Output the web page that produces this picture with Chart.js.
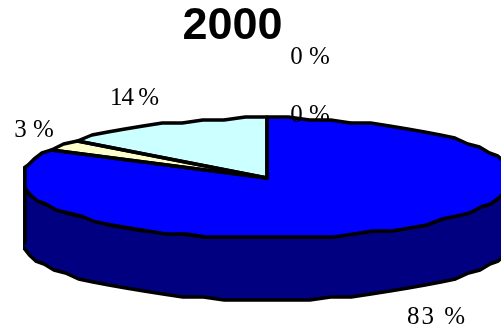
<!DOCTYPE html>
<html>
<head>
<meta charset="utf-8">
<style>
  html, body { margin: 0; padding: 0; background: #fff; }
  canvas { display: block; }
</style>
<script src="https://cdn.jsdelivr.net/npm/chart.js@4"></script>
</head>
<body>
<canvas id="pie" width="501" height="331"></canvas>
<script>
// Share of each category in 2000, clockwise from twelve o'clock
const categories = ['A', 'B', 'C', 'D', 'E'];
const shares = [83, 3, 14, 0, 0];
const sliceColors = ['#0000ff', '#ffffcc', '#ccffff', '#ccffcc', '#ff99cc'];
const titleText = '2000';

// Tilted disc geometry, in canvas pixels
const disc = { x: 267, y: 178, rx: 246, ry: 60, depth: 62, left: 25, right: 501 };
const wallColor = '#000080';
const edgeWidth = 3.5;

// The rim is a coarse polyline: one vertex per step, snapped to a pixel grid
const rimStep = Math.PI / 36;
const rimGrid = 3;

// Where each percentage label is centred, and its tracking
const labelSpots = [
  { x: 437, y: 317, track: 2 },
  { x: 34, y: 130, track: 0 },
  { x: 134, y: 98, track: -1 },
  { x: 310, y: 115, track: 0 },
  { x: 310, y: 57, track: 0 }
];

function clipToDisc(ctx) {
  ctx.beginPath();
  ctx.rect(disc.left - 2, 0, disc.right - disc.left + 2, 331);
  ctx.clip();
}

// Snapped rim vertices between two canvas angles, with a vertical offset
function rimPoints(from, to, drop) {
  const pts = [];
  const count = Math.max(1, Math.round(Math.abs(to - from) / rimStep));
  for (let i = 0; i <= count; i++) {
    const a = from + (to - from) * i / count;
    const x = disc.x + disc.rx * Math.cos(a);
    const y = disc.y + drop + disc.ry * Math.sin(a);
    pts.push([x, Math.round(y / rimGrid) * rimGrid]);
  }
  return pts;
}

function tracePoints(ctx, pts, startNew) {
  pts.forEach((p, i) => {
    if (i === 0 && startNew) ctx.moveTo(p[0], p[1]);
    else ctx.lineTo(p[0], p[1]);
  });
}

const tiltedPie = {
  id: 'tiltedPie',
  beforeDatasetsDraw(chart) {
    const ctx = chart.ctx;
    const first = chart.getDatasetMeta(0).data[0];
    ctx.save();
    clipToDisc(ctx);

    // Side wall below the front half of the disc
    ctx.beginPath();
    tracePoints(ctx, rimPoints(0, Math.PI, 0), true);
    tracePoints(ctx, rimPoints(Math.PI, 0, disc.depth), false);
    ctx.closePath();
    ctx.fillStyle = wallColor;
    ctx.fill();
    ctx.lineWidth = edgeWidth;
    ctx.lineJoin = 'round';
    ctx.strokeStyle = '#000';
    ctx.stroke();

    // Flatten the library's round pie onto the disc
    ctx.translate(disc.x, disc.y);
    ctx.scale(disc.rx / first.outerRadius, disc.ry / first.outerRadius);
    ctx.translate(-first.x, -first.y);
  },
  afterDatasetsDraw(chart) {
    const ctx = chart.ctx;
    const arcs = chart.getDatasetMeta(0).data;
    ctx.restore();

    ctx.save();
    clipToDisc(ctx);
    ctx.lineWidth = edgeWidth;
    ctx.lineJoin = 'round';
    ctx.strokeStyle = '#000';
    arcs.forEach((arc) => {
      if (arc.endAngle - arc.startAngle <= 0) return;
      ctx.beginPath();
      ctx.moveTo(disc.x, disc.y);
      tracePoints(ctx, rimPoints(arc.startAngle, arc.endAngle, 0), false);
      ctx.closePath();
      ctx.stroke();
    });

    // Flat cut on the left side of the disc and wall
    const t = (disc.x - disc.left) / disc.rx;
    const lift = disc.ry * Math.sqrt(1 - t * t);
    ctx.beginPath();
    ctx.moveTo(disc.left, disc.y - lift);
    ctx.lineTo(disc.left, disc.y + lift + disc.depth - 6);
    ctx.stroke();
    ctx.restore();
  },
  afterDraw(chart) {
    const ctx = chart.ctx;
    ctx.save();
    ctx.font = '25px "Liberation Serif"';
    ctx.fillStyle = '#000';
    ctx.textAlign = 'center';
    ctx.textBaseline = 'middle';
    shares.forEach((value, i) => {
      ctx.letterSpacing = labelSpots[i].track + 'px';
      ctx.fillText(value + ' %', labelSpots[i].x, labelSpots[i].y);
    });
    ctx.restore();
  }
};

new Chart(document.getElementById('pie'), {
  type: 'pie',
  data: {
    labels: categories,
    datasets: [{
      data: shares,
      backgroundColor: sliceColors,
      borderWidth: 0,
      clip: false
    }]
  },
  options: {
    responsive: false,
    animation: false,
    layout: { padding: { right: 36 } },
    plugins: {
      legend: { display: false },
      tooltip: { enabled: false },
      title: {
        display: true,
        text: titleText,
        color: '#000',
        font: { family: '"Liberation Sans"', size: 45, weight: 'bold' },
        padding: { top: 0, bottom: 4 }
      }
    }
  },
  plugins: [tiltedPie]
});
</script>
</body>
</html>
